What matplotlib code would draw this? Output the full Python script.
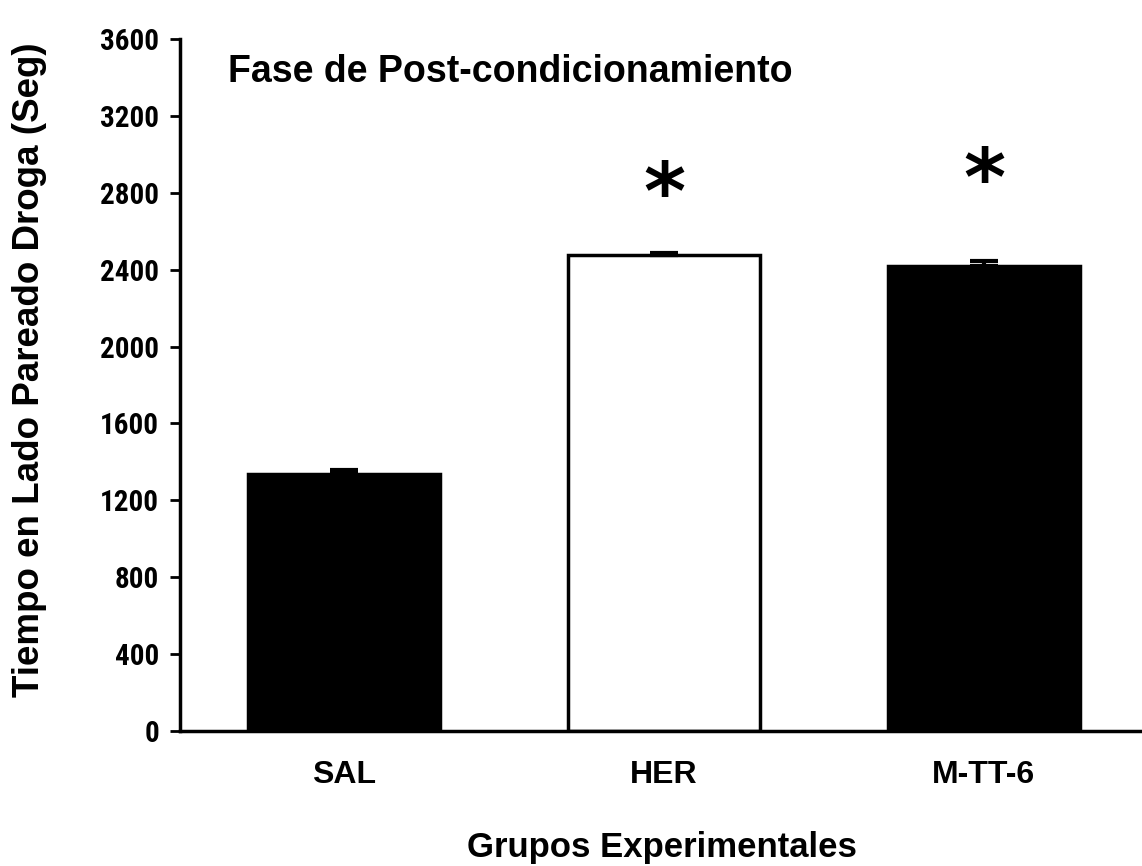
import matplotlib
matplotlib.use("Agg")
import matplotlib.pyplot as plt
from matplotlib import font_manager

groups = ["SAL", "HER", "M-TT-6"]
means = [1337, 2476, 2419]
sem = [22, 12, 28]
fills = ["black", "white", "black"]
star_heights = [None, 2780, 2850]
yticks = [0, 400, 800, 1200, 1600, 2000, 2400, 2800, 3200, 3600]

bold_families = {f.name for f in font_manager.fontManager.ttflist if f.weight in (700, "bold")}

def first_installed(cands, default):
    for c in cands:
        if c in bold_families:
            return c
    return default

main_font = first_installed(["Liberation Sans", "Arimo"], "DejaVu Sans")
narrow_font = first_installed(["Liberation Sans Narrow", "Arial Narrow", "Roboto Condensed",
                               "Fira Sans Condensed", "DejaVu Sans Condensed"], main_font)
plt.rcParams["font.family"] = [main_font, "DejaVu Sans"]
plt.rcParams["font.weight"] = "bold"

W, H = 1142, 866
fig = plt.figure(figsize=(W / 100, H / 100), dpi=100)
ax = fig.add_axes([180 / W, 1 - 731 / H, (1142 - 180) / W, (731 - 39) / H])

x = list(range(len(groups)))
ax.bar(x, means, width=0.6, color=fills, edgecolor="black", linewidth=2.5, zorder=2)
ax.errorbar(x, means, yerr=[[0] * len(sem), sem], fmt="none", ecolor="black",
            elinewidth=3, capsize=10, capthick=3, zorder=3)

for xi, h in zip(x, star_heights):
    if h is not None:
        ax.text(xi, h, "*", ha="center", va="center", fontsize=58,
                fontweight="bold", family=["DejaVu Sans"])

ax.set_xlim(-0.5125, 2.494)
ax.set_ylim(0, 3600)
ax.set_yticks(yticks)
ax.set_xticks(x)
ax.set_xticklabels(groups)
ax.tick_params(axis="y", direction="out", length=7, width=2, labelsize=21, pad=8)
ax.tick_params(axis="x", length=0, labelsize=23, pad=21)
for lab in ax.get_yticklabels():
    lab.set_fontweight("bold")
    lab.set_family([narrow_font, "DejaVu Sans"])
for lab in ax.get_xticklabels():
    lab.set_fontweight("bold")

for side in ("top", "right"):
    ax.spines[side].set_visible(False)
ax.spines["left"].set_linewidth(2.5)
ax.spines["bottom"].set_linewidth(2.5)

ax.set_ylabel("Tiempo en Lado Pareado Droga (Seg)", fontsize=26.5, fontweight="bold")
ax.yaxis.set_label_coords(-0.138, 0.522)
ax.set_xlabel("Grupos Experimentales", fontsize=25, fontweight="bold")
ax.xaxis.set_label_coords(0.501, -0.145)
ax.text(0.05, 0.952, "Fase de Post-condicionamiento", transform=ax.transAxes,
        fontsize=27, fontweight="bold", va="center", ha="left")

fig.savefig("out.png", dpi=100)
